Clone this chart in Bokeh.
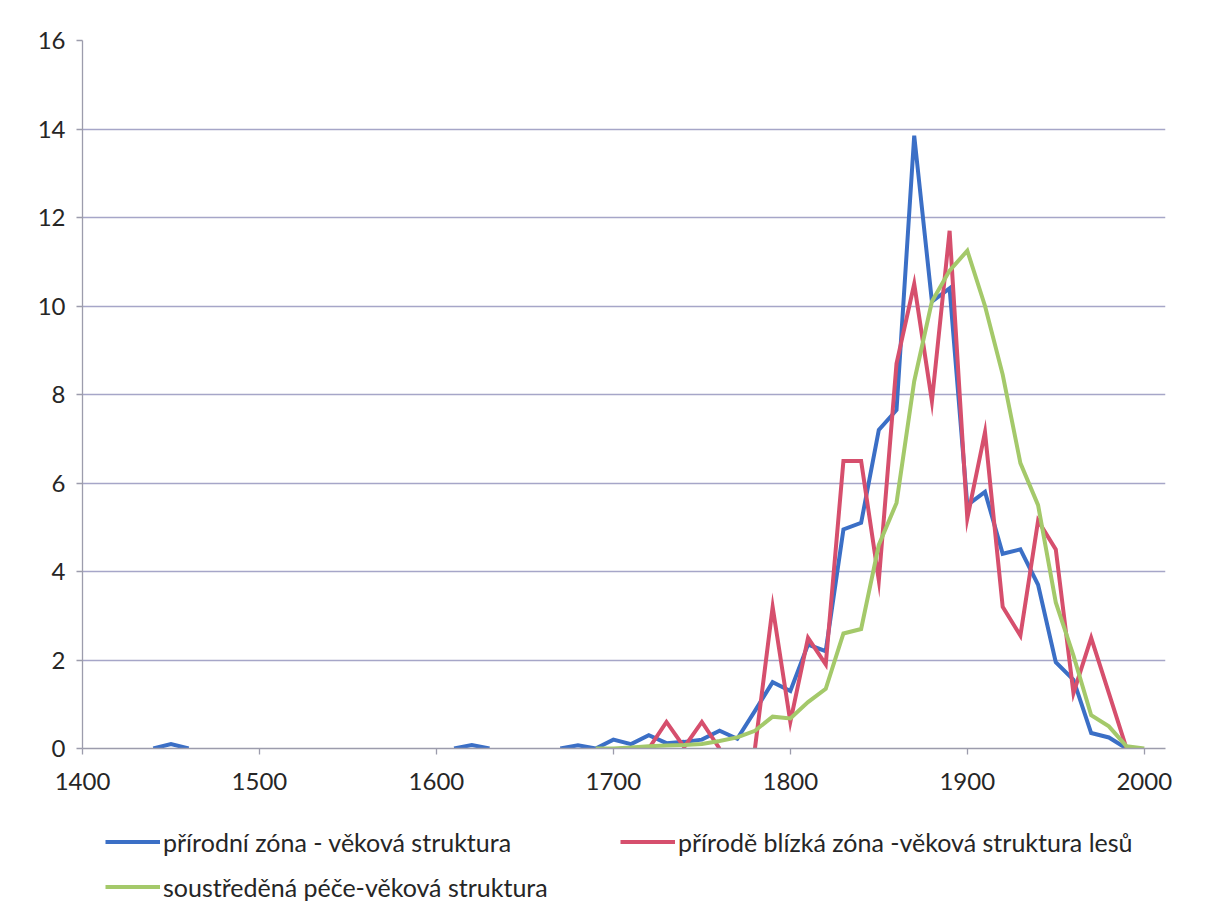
import numpy as np
from bokeh.plotting import figure
from bokeh.layouts import column
from bokeh.models import Legend, LegendItem, FixedTicker, Range1d
from bokeh.embed import file_html
from bokeh.resources import INLINE

nan = float("nan")

years = [1440, 1450, 1460, 1470, 1480, 1490, 1500, 1510, 1520, 1530,
         1540, 1550, 1560, 1570, 1580, 1590, 1600, 1610, 1620, 1630,
         1640, 1650, 1660, 1670, 1680, 1690, 1700, 1710, 1720, 1730,
         1740, 1750, 1760, 1770, 1780, 1790, 1800, 1810, 1820, 1830,
         1840, 1850, 1860, 1870, 1880, 1890, 1900, 1910, 1920, 1930,
         1940, 1950, 1960, 1970, 1980, 1990, 2000]

prirodni = [0, 0.1, 0, nan, nan, nan, nan, nan, nan, nan,
            nan, nan, nan, nan, nan, nan, nan, 0, 0.08, 0,
            nan, nan, nan, 0, 0.07, 0, 0.2, 0.1, 0.3, 0.12,
            0.15, 0.2, 0.4, 0.22, 0.85, 1.5, 1.3, 2.35, 2.2, 4.95,
            5.1, 7.2, 7.65, 13.85, 10.1, 10.4, 5.5, 5.8, 4.4, 4.5,
            3.7, 1.95, 1.55, 0.35, 0.25, 0, nan]

blizka = [nan, nan, nan, nan, nan, nan, nan, nan, nan, nan,
          nan, nan, nan, nan, nan, nan, nan, nan, nan, nan,
          nan, nan, nan, nan, nan, nan, nan, nan, 0, 0.6,
          0.03, 0.6, 0, nan, 0, 3.2, 0.6, 2.5, 1.9, 6.5,
          6.5, 3.8, 8.7, 10.5, 7.85, 11.7, 5.2, 7.15, 3.2, 2.55,
          5.15, 4.5, 1.25, 2.5, 1.25, 0, nan]

soustredena = [nan, nan, nan, nan, nan, nan, nan, nan, nan, nan,
               nan, nan, nan, nan, nan, nan, nan, nan, nan, nan,
               nan, nan, nan, nan, nan, 0, 0, 0.02, 0.05, 0.07,
               0.08, 0.1, 0.17, 0.25, 0.4, 0.72, 0.68, 1.05, 1.35, 2.6,
               2.7, 4.6, 5.55, 8.3, 10.1, 10.8, 11.25, 10.0, 8.45, 6.45,
               5.5, 3.3, 2.1, 0.75, 0.5, 0.05, 0]

labels = ["přírodní zóna - věková struktura",
          "přírodě blízká zóna -věková struktura lesů",
          "soustředěná péče-věková struktura"]
colors = ["#3b6fc6", "#d64f6d", "#a4c96a"]

x_ticks = [1400, 1500, 1600, 1700, 1800, 1900, 2000]
y_ticks = [0, 2, 4, 6, 8, 10, 12, 14, 16]

FONT = "Lato"
TEXT_COLOR = "#262626"

p = figure(width=1200, height=805, output_backend="svg", toolbar_location=None,
           x_range=Range1d(1400, 2012), y_range=Range1d(0, 16),
           min_border_left=82, min_border_right=35, min_border_top=40,
           min_border_bottom=57)

p.outline_line_color = None
p.xgrid.grid_line_color = None
p.ygrid.grid_line_color = "#a6a6c8"
p.ygrid.grid_line_width = 1.3

p.xaxis.ticker = FixedTicker(ticks=x_ticks)
p.yaxis.ticker = FixedTicker(ticks=y_ticks)
for ax in (p.xaxis, p.yaxis):
    ax.axis_line_color = "#9c9cac"
    ax.axis_line_width = 1.3
    ax.major_tick_line_color = "#9c9cac"
    ax.major_tick_line_width = 1.3
    ax.major_tick_in = 0
    ax.major_tick_out = 6
    ax.minor_tick_line_color = None
    ax.major_label_text_font = FONT
    ax.major_label_text_font_size = "24px"
    ax.major_label_text_color = TEXT_COLOR
p.xaxis.major_label_standoff = 18
p.yaxis.major_label_standoff = 11

x = np.array(years, dtype=float)
for vals, col in zip([prirodni, blizka, soustredena], colors):
    p.line(x, np.array(vals, dtype=float), line_color=col, line_width=4,
           line_join="miter")

# legend strip below the chart (its frame is aligned with the chart frame)
lg = figure(width=1200, height=110, output_backend="svg", toolbar_location=None,
            x_range=Range1d(0, 1), y_range=Range1d(0, 1),
            min_border_left=82, min_border_right=35, min_border_top=0,
            min_border_bottom=0)
lg.axis.visible = False
lg.grid.visible = False
lg.outline_line_color = None
# legend-only renderers: a single undefined point, so nothing is drawn in the strip
dummies = [lg.line(x=np.array([nan]), y=np.array([nan]), line_color=col, line_width=4)
           for col in colors]

legend = Legend(items=[LegendItem(label=lab, renderers=[r]) for lab, r in zip(labels, dummies)],
                orientation="horizontal", ncols=2, location=(23, 7),
                border_line_color=None, background_fill_alpha=0, padding=0, margin=0,
                spacing=2, glyph_width=55, glyph_height=43, label_height=43,
                label_width=455, label_standoff=3, label_text_font=FONT,
                label_text_font_size="25px", label_text_color=TEXT_COLOR)
lg.add_layout(legend)

open("out.html", "w").write(file_html(column(p, lg, spacing=0), INLINE))
